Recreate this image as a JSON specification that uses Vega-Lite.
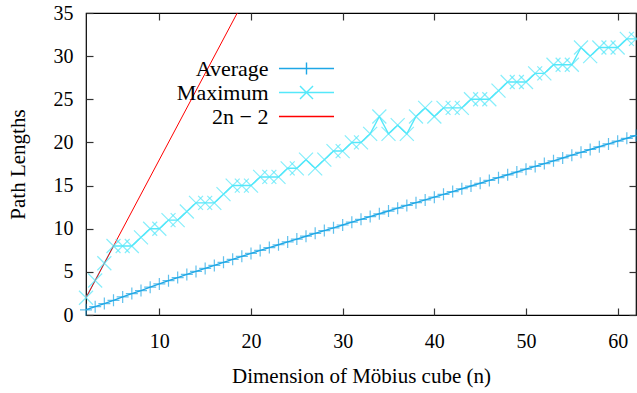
{
 "$schema": "https://vega.github.io/schema/vega-lite/v6.json",
 "width": 550, "height": 302,
 "autosize": "none",
 "padding": {"left": 86, "top": 13, "right": 1, "bottom": 78},
 "background": "white",
 "config": {
  "font": "Liberation Serif",
  "view": {"stroke": "black", "strokeWidth": 1.2},
  "axis": {"grid": false, "domain": false, "labelFontSize": 20, "labelColor": "black", "titleFontSize": 21, "titleFontWeight": "normal", "titleColor": "black", "tickColor": "#333", "tickWidth": 1.2, "tickSize": -7, "labelFont": "Liberation Serif", "titleFont": "Liberation Serif"}
 },
 "resolve": {"axis": {"x": "independent", "y": "independent"}},
 "datasets": {
  "avg": [
   {"n":2,"v":0.6},{"n":3,"v":0.97},{"n":4,"v":1.32},{"n":5,"v":1.7},{"n":6,"v":2.1},{"n":7,"v":2.48},{"n":8,"v":2.83},{"n":9,"v":3.22},{"n":10,"v":3.6},{"n":11,"v":3.98},{"n":12,"v":4.34},{"n":13,"v":4.7},{"n":14,"v":5.05},{"n":15,"v":5.4},{"n":16,"v":5.75},{"n":17,"v":6.1},{"n":18,"v":6.45},{"n":19,"v":6.8},{"n":20,"v":7.14},{"n":21,"v":7.48},{"n":22,"v":7.81},{"n":23,"v":8.14},{"n":24,"v":8.47},{"n":25,"v":8.8},{"n":26,"v":9.13},{"n":27,"v":9.46},{"n":28,"v":9.78},{"n":29,"v":10.1},{"n":30,"v":10.43},{"n":31,"v":10.76},{"n":32,"v":11.09},{"n":33,"v":11.41},{"n":34,"v":11.73},{"n":35,"v":12.05},{"n":36,"v":12.38},{"n":37,"v":12.7},{"n":38,"v":13.02},{"n":39,"v":13.34},{"n":40,"v":13.66},{"n":41,"v":13.98},{"n":42,"v":14.3},{"n":43,"v":14.63},{"n":44,"v":14.95},{"n":45,"v":15.27},{"n":46,"v":15.6},{"n":47,"v":15.92},{"n":48,"v":16.25},{"n":49,"v":16.57},{"n":50,"v":16.9},{"n":51,"v":17.22},{"n":52,"v":17.55},{"n":53,"v":17.87},{"n":54,"v":18.2},{"n":55,"v":18.52},{"n":56,"v":18.85},{"n":57,"v":19.18},{"n":58,"v":19.5},{"n":59,"v":19.83},{"n":60,"v":20.15},{"n":61,"v":20.48},{"n":62,"v":20.8}
  ],
  "max": [
   {"n":2,"v":2},{"n":3,"v":4},{"n":4,"v":6},{"n":5,"v":8},{"n":6,"v":8},{"n":7,"v":8},{"n":8,"v":9},{"n":9,"v":10},{"n":10,"v":10},{"n":11,"v":11},{"n":12,"v":11},{"n":13,"v":12},{"n":14,"v":13},{"n":15,"v":13},{"n":16,"v":13},{"n":17,"v":14},{"n":18,"v":15},{"n":19,"v":15},{"n":20,"v":15},{"n":21,"v":16},{"n":22,"v":16},{"n":23,"v":16},{"n":24,"v":17},{"n":25,"v":17},{"n":26,"v":18},{"n":27,"v":17},{"n":28,"v":18},{"n":29,"v":19},{"n":30,"v":19},{"n":31,"v":20},{"n":32,"v":20},{"n":33,"v":21},{"n":34,"v":23},{"n":35,"v":21},{"n":36,"v":22},{"n":37,"v":21},{"n":38,"v":23},{"n":39,"v":24},{"n":40,"v":23},{"n":41,"v":24},{"n":42,"v":24},{"n":43,"v":24},{"n":44,"v":25},{"n":45,"v":25},{"n":46,"v":25},{"n":47,"v":26},{"n":48,"v":27},{"n":49,"v":27},{"n":50,"v":27},{"n":51,"v":28},{"n":52,"v":28},{"n":53,"v":29},{"n":54,"v":29},{"n":55,"v":29},{"n":56,"v":31},{"n":57,"v":30},{"n":58,"v":31},{"n":59,"v":31},{"n":60,"v":31},{"n":61,"v":32},{"n":62,"v":32}
  ],
  "lin": [{"n":2,"v":2},{"n":62,"v":122}]
 },
 "layer": [
  {
   "layer": [
    {"data": {"name": "avg"}, "transform": [{"calculate": "'Average'", "as": "series"}], "mark": {"type": "line", "strokeWidth": 1.4, "clip": true}},
    {"data": {"name": "max"}, "transform": [{"calculate": "'Maximum'", "as": "series"}], "mark": {"type": "line", "strokeWidth": 1.4, "clip": true}},
    {"data": {"name": "lin"}, "transform": [{"calculate": "'2n − 2'", "as": "series"}], "mark": {"type": "line", "strokeWidth": 1, "clip": true}}
   ],
   "encoding": {
    "x": {"field": "n", "type": "quantitative", "scale": {"domain": [2, 62], "nice": false, "zero": false}, "axis": {"orient": "bottom", "values": [10,20,30,40,50,60], "title": "Dimension of Möbius cube (n)", "labelPadding": 23, "titlePadding": 14}},
    "y": {"field": "v", "type": "quantitative", "scale": {"domain": [0, 35], "nice": false}, "axis": {"orient": "left", "values": [0,5,10,15,20,25,30,35], "title": "Path Lengths", "labelPadding": 20, "titlePadding": 25}},
    "color": {"field": "series", "type": "nominal", "scale": {"domain": ["Average", "Maximum", "2n − 2"], "range": ["#1ea7e6", "#55e8fa", "#ff0000"]},
     "legend": {"title": null, "orient": "none", "legendX": 209, "legendY": 44, "labelFontSize": 22, "labelColor": "black", "labelFont": "Liberation Serif", "labelAlign": "right", "labelOffset": -49.5, "symbolSize": 441, "symbolStrokeWidth": 1.4, "rowPadding": 1, "labelLimit": 0,
      "encode": {"symbols": {"update": {"fill": {"value": "transparent"}, "shape": {"signal": "datum.value === 'Average' ? 'M-2.62,0H2.62M0,-0.57V0.57' : datum.value === 'Maximum' ? 'M-2.62,0H2.62M-0.62,-0.62L0.62,0.62M-0.62,0.62L0.62,-0.62' : 'M-2.62,0H2.62'"}}}}}}
   }
  },
  {
   "layer": [
    {"data": {"name": "avg"}, "transform": [{"calculate": "'Average'", "as": "series"}], "mark": {"type": "point", "filled": false, "strokeWidth": 1.2, "size": 144, "shape": "M-1,0H1M0,-1V1"}},
    {"data": {"name": "max"}, "transform": [{"calculate": "'Maximum'", "as": "series"}], "mark": {"type": "point", "filled": false, "strokeWidth": 1.2, "size": 196, "shape": "M-1,-1L1,1M-1,1L1,-1"}}
   ],
   "encoding": {
    "x": {"field": "n", "type": "quantitative", "axis": {"orient": "top", "values": [10,20,30,40,50,60], "labels": false, "title": null}},
    "y": {"field": "v", "type": "quantitative", "axis": {"orient": "right", "values": [0,5,10,15,20,25,30,35], "labels": false, "title": null}},
    "color": {"field": "series", "type": "nominal", "legend": null}
   }
  }
 ]
}
